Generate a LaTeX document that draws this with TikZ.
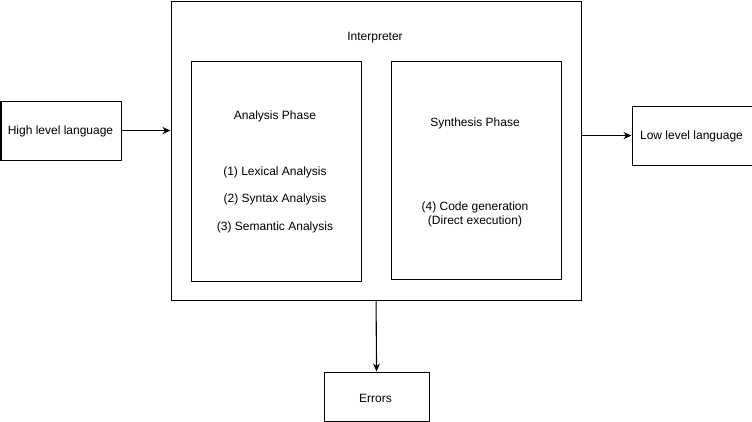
\documentclass[tikz,border=0pt]{standalone}
\usepackage{fontspec}
\setmainfont{Liberation Sans}
\usetikzlibrary{arrows.meta}
\begin{document}
\begin{tikzpicture}[x=1pt,y=-1pt,
  box/.style={draw=black,line width=1.1pt,inner sep=0pt,anchor=north west,fill=white},
  txt/.style={font=\fontsize{12}{14}\selectfont,inner sep=0pt,align=center},
  arr/.style={draw=black,line width=1.1pt,-{Stealth[length=8pt,width=7pt]}}]
\useasboundingbox (0,0) rectangle (752,421);
\node[box,minimum width=410pt,minimum height=299.5pt] (interp) at (170.5,0.5) {};
\node[box,minimum width=170pt,minimum height=220pt] (ana) at (190.5,60.5) {};
\node[box,minimum width=170pt,minimum height=218pt] (syn) at (390.5,60.5) {};
\node[box,minimum width=120pt,minimum height=59pt] (high) at (0.5,100.5) {};
\node[box,minimum width=120pt,minimum height=59pt] (low) at (631.5,105.5) {};
\node[box,minimum width=105pt,minimum height=49pt] (err) at (323.5,371.5) {};
\node[txt] (tinterp) at (375,38) {Interpreter};
\node[txt] (tana) at (275,116) {Analysis Phase};
\node[txt] (t1) at (275,172) {(1) Lexical Analysis};
\node[txt] (t2) at (275,199) {(2) Syntax Analysis};
\node[txt] (t3) at (275,227) {(3) Semantic Analysis};
\node[txt] (tsyn) at (475,123) {Synthesis Phase};
\node[txt] (t4) at (475,214) {(4) Code generation\\(Direct execution)};
\node[txt] (thigh) at (60.5,131) {High level language};
\node[txt] (tlow) at (691.5,136.5) {Low level language};
\node[txt] (terr) at (375.5,398) {Errors};
\draw[arr] (high.east) -- (interp.west|-high.east);
\draw[arr] (interp.east|-low.west) -- (low.west);
\draw[arr] (interp.south) -- (err.north);
\end{tikzpicture}
\end{document}
